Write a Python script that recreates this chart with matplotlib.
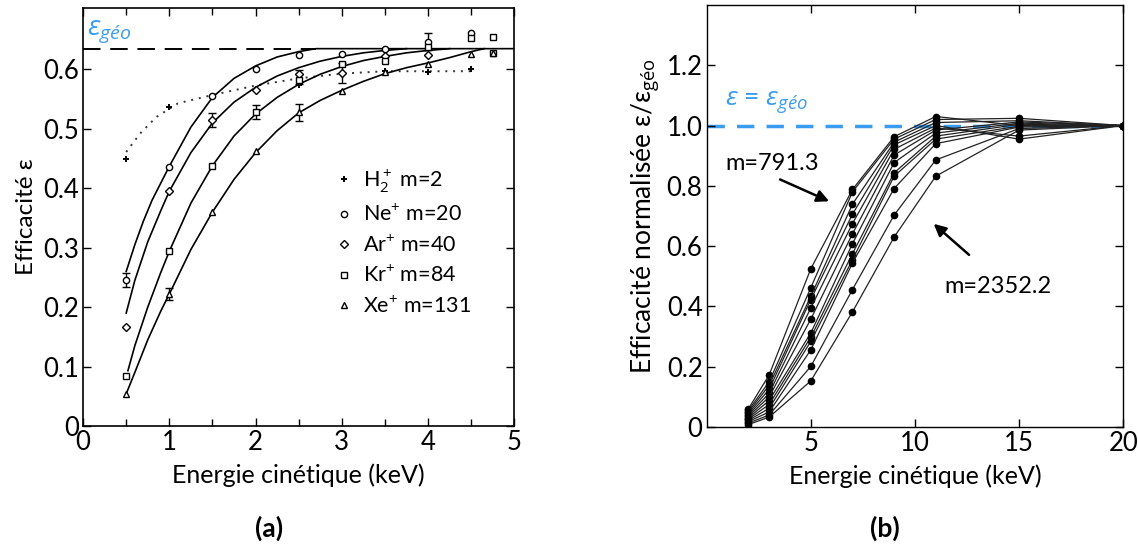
import matplotlib
matplotlib.use("Agg")
import matplotlib.pyplot as plt

plt.rcParams['font.family'] = ['Lato', 'Open Sans', 'DejaVu Sans']
plt.rcParams['mathtext.fontset'] = 'custom'
plt.rcParams['mathtext.rm'] = 'Open Sans'
plt.rcParams['mathtext.it'] = 'Open Sans:italic'

BLUE = '#3a9cf0'

# ---- panel (a) data: measured points ----
h2_x = [0.5, 1.0, 2.5, 3.5, 4.0, 4.5]
h2_y = [0.449, 0.536, 0.573, 0.597, 0.595, 0.600]

ne_x = [0.5, 1.0, 1.5, 2.0, 2.5, 3.0, 3.5, 4.0, 4.5]
ne_y = [0.245, 0.435, 0.555, 0.600, 0.624, 0.626, 0.634, 0.647, 0.661]

ar_x = [0.5, 1.0, 1.5, 2.0, 2.5, 3.0, 3.5, 4.0]
ar_y = [0.166, 0.395, 0.515, 0.565, 0.592, 0.594, 0.622, 0.625]

kr_x = [0.5, 1.0, 1.5, 2.0, 2.5, 3.0, 3.5, 4.0, 4.5, 4.75, 4.75]
kr_y = [0.084, 0.294, 0.438, 0.528, 0.582, 0.610, 0.615, 0.638, 0.653, 0.654, 0.627]

xe_x = [0.5, 1.0, 1.5, 2.0, 2.5, 3.0, 3.5, 4.0, 4.5, 4.75]
xe_y = [0.054, 0.222, 0.360, 0.462, 0.528, 0.563, 0.595, 0.609, 0.626, 0.627]

# error bars (x, y, half-width)
err_x = [0.5, 1.5, 2.0, 2.5, 3.0, 1.0, 2.5, 4.0]
err_y = [0.245, 0.515, 0.528, 0.587, 0.594, 0.222, 0.528, 0.647]
err_e = [0.012, 0.012, 0.012, 0.012, 0.017, 0.010, 0.014, 0.015]

# fitted curves
h2_fit_x = [0.5, 0.66, 0.85, 1.1, 1.5, 2.0, 2.5, 3.0, 3.5, 4.0, 4.5]
h2_fit_y = [0.461, 0.492, 0.520, 0.543, 0.557, 0.573, 0.585, 0.593, 0.597, 0.597, 0.597]

ne_fit_x = [0.5, 0.6, 0.7, 0.8, 1.0, 1.25, 1.5, 1.75, 2.0, 2.25, 2.5, 2.7, 5.0]
ne_fit_y = [0.26, 0.305, 0.345, 0.38, 0.437, 0.503, 0.553, 0.585, 0.606, 0.621, 0.630, 0.635, 0.635]

ar_fit_x = [0.5, 0.6, 0.75, 0.9, 1.0, 1.25, 1.5, 1.75, 2.0, 2.25, 2.5, 2.75, 3.0, 3.25, 3.5, 3.75]
ar_fit_y = [0.19, 0.245, 0.31, 0.362, 0.395, 0.46, 0.51, 0.545, 0.570, 0.589, 0.603, 0.614, 0.622, 0.628, 0.632, 0.635]

kr_fit_x = [0.52, 0.6, 0.75, 0.9, 1.0, 1.25, 1.5, 1.75, 2.0, 2.25, 2.5, 2.75, 3.0, 3.25, 3.5, 3.75, 4.0, 4.25]
kr_fit_y = [0.093, 0.135, 0.20, 0.258, 0.294, 0.375, 0.438, 0.488, 0.525, 0.553, 0.575, 0.592, 0.605, 0.615, 0.622, 0.628, 0.632, 0.635]

xe_fit_x = [0.5, 0.6, 0.75, 0.9, 1.0, 1.25, 1.5, 1.75, 2.0, 2.25, 2.5, 2.75, 3.0, 3.25, 3.5, 3.75, 4.0, 4.25, 4.5, 4.65]
xe_fit_y = [0.054, 0.09, 0.145, 0.193, 0.222, 0.297, 0.360, 0.415, 0.460, 0.497, 0.527, 0.548, 0.565, 0.580, 0.593, 0.603, 0.611, 0.620, 0.630, 0.635]

eps_geo = 0.635

# ---- panel (b) data ----
energy_b = [2, 3, 5, 7, 9, 11, 15, 20]
norm_eff = [
    [0.060, 0.173, 0.525, 0.788, 0.963, 1.030, 1.000, 1.0],
    [0.055, 0.150, 0.462, 0.780, 0.955, 1.020, 1.024, 1.0],
    [0.050, 0.138, 0.434, 0.739, 0.945, 1.010, 1.016, 1.0],
    [0.045, 0.125, 0.423, 0.706, 0.936, 1.000, 0.955, 1.0],
    [0.040, 0.112, 0.395, 0.675, 0.921, 0.992, 0.965, 1.0],
    [0.035, 0.100, 0.358, 0.641, 0.902, 0.985, 1.012, 1.0],
    [0.030, 0.088, 0.312, 0.608, 0.877, 0.975, 1.008, 1.0],
    [0.026, 0.075, 0.298, 0.575, 0.843, 0.965, 1.004, 1.0],
    [0.022, 0.062, 0.284, 0.555, 0.832, 0.955, 0.998, 1.0],
    [0.018, 0.050, 0.256, 0.544, 0.791, 0.940, 0.995, 1.0],
    [0.013, 0.040, 0.201, 0.456, 0.703, 0.886, 0.990, 1.0],
    [0.008, 0.033, 0.153, 0.382, 0.630, 0.832, 0.985, 1.0],
]

fig = plt.figure(figsize=(11.38, 5.51), dpi=100)
ax1 = fig.add_axes([0.073, 0.227, 0.379, 0.758])
ax2 = fig.add_axes([0.621, 0.225, 0.366, 0.766])

# ---------------- panel (a) ----------------
ax1.plot([0, 2.7], [eps_geo, eps_geo], color='black', lw=1.4, dashes=(9, 5))
ax1.plot(h2_fit_x, h2_fit_y, color='#333333', lw=1.4, ls=(0, (1, 3)))
for fx, fy in [(ne_fit_x, ne_fit_y), (ar_fit_x, ar_fit_y), (kr_fit_x, kr_fit_y), (xe_fit_x, xe_fit_y)]:
    ax1.plot(fx, fy, color='black', lw=1.2)

ax1.errorbar(err_x, err_y, yerr=err_e, fmt='none', ecolor='black', elinewidth=1, capsize=3, capthick=1)

mk = dict(ls='none', mfc='white', mec='black', mew=1.0, ms=4.5)
ax1.plot(h2_x, h2_y, marker='+', color='black', ls='none', ms=5, mew=1.4, label=r'H$_2^+$ m=2')
ax1.plot(ne_x, ne_y, marker='o', label=r'Ne$^{+}$ m=20', **mk)
ax1.plot(ar_x, ar_y, marker='D', label=r'Ar$^{+}$ m=40', **dict(mk, ms=4))
ax1.plot(kr_x, kr_y, marker='s', label=r'Kr$^{+}$ m=84', **mk)
ax1.plot(xe_x, xe_y, marker='^', label=r'Xe$^{+}$ m=131', **mk)

ax1.legend(loc='upper left', bbox_to_anchor=(0.565, 0.64), frameon=False, fontsize=15.5,
           handlelength=0.8, handletextpad=0.5, labelspacing=0.42, borderaxespad=0)

ax1.text(0.05, 0.641, r'$\varepsilon_{géo}$', color=BLUE, fontsize=20, va='bottom', ha='left')

ax1.set_xlim(0, 5)
ax1.set_ylim(0, 0.703)
ax1.set_xticks([0, 1, 2, 3, 4, 5])
ax1.set_xticks([0.5, 1.5, 2.5, 3.5, 4.5], minor=True)
ax1.set_yticks([0, 0.1, 0.2, 0.3, 0.4, 0.5, 0.6])
ax1.set_yticklabels(['0', '0.1', '0.2', '0.3', '0.4', '0.5', '0.6'])
ax1.tick_params(which='both', direction='in', top=True, right=True, labelsize=18.5, length=6, width=1, pad=3)
ax1.tick_params(which='minor', length=5)
ax1.set_xlabel('Energie cinétique (keV)', fontsize=18, labelpad=6)
ax1.set_ylabel('Efficacité ε', fontsize=17.5, labelpad=4)
for s in ax1.spines.values():
    s.set_linewidth(1.2)

# ---------------- panel (b) ----------------
ax2.axhline(1.0, color=BLUE, lw=2.5, dashes=(5, 3.5), zorder=1)
for row in norm_eff:
    ax2.plot(energy_b, row, color='#222222', lw=0.9, marker='o', ms=4.5, mfc='black', mec='black', zorder=2)

ax2.text(0.9, 1.035, r'$\varepsilon$ = $\varepsilon_{géo}$', color=BLUE, fontsize=19, ha='left', va='bottom')

ax2.text(0.9, 0.875, 'm=791.3', fontsize=17, ha='left', va='center')
ax2.annotate('', xy=(6.0, 0.745), xytext=(3.4, 0.825),
             arrowprops=dict(arrowstyle='-|>', color='black', lw=1.8, mutation_scale=18))
ax2.text(11.4, 0.465, 'm=2352.2', fontsize=17, ha='left', va='center')
ax2.annotate('', xy=(10.8, 0.68), xytext=(12.7, 0.565),
             arrowprops=dict(arrowstyle='-|>', color='black', lw=1.8, mutation_scale=18))

ax2.set_xlim(0, 20)
ax2.set_ylim(0, 1.4)
ax2.set_xticks([5, 10, 15, 20])
ax2.set_yticks([0, 0.2, 0.4, 0.6, 0.8, 1.0, 1.2])
ax2.set_yticklabels(['0', '0.2', '0.4', '0.6', '0.8', '1.0', '1.2'])
ax2.tick_params(direction='in', top=True, right=True, labelsize=18.5, length=6, width=1, pad=3)
ax2.set_xlabel('Energie cinétique (keV)', fontsize=18, labelpad=6)
ax2.set_ylabel(r'Efficacité normalisée ε/ε$_{\mathrm{géo}}$', fontsize=19, labelpad=4)
for s in ax2.spines.values():
    s.set_linewidth(1.0)

fig.text(0.236, 0.042, '(a)', fontsize=19, fontweight='bold', ha='center', va='center')
fig.text(0.778, 0.042, '(b)', fontsize=19, fontweight='bold', ha='center', va='center')

fig.savefig('out.png', dpi=100)
